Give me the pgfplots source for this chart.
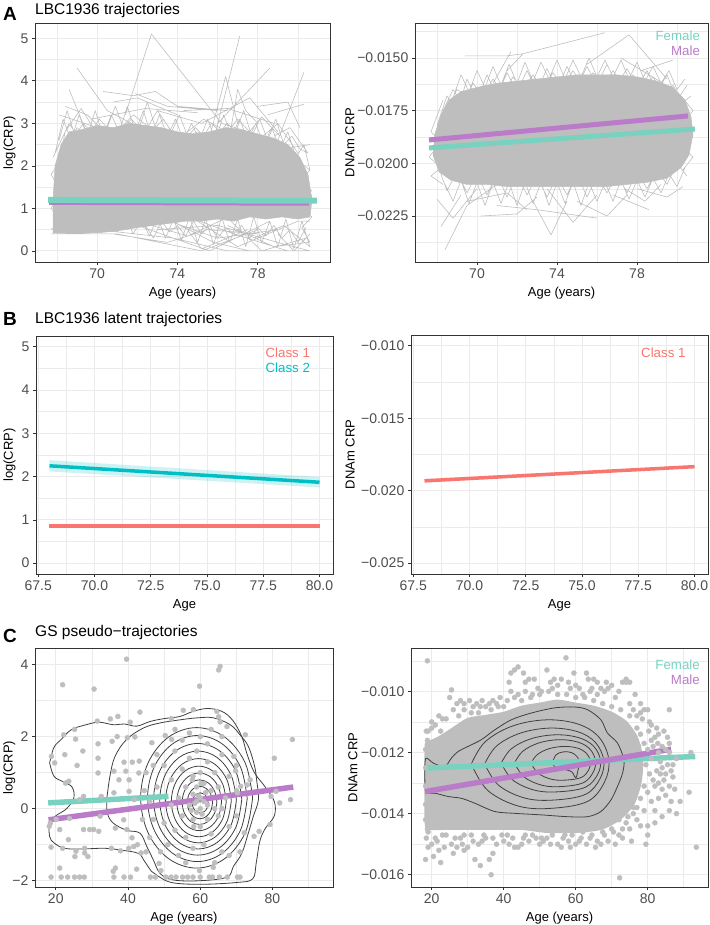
\documentclass[border=0pt]{standalone}
\usepackage{fontspec}
\setmainfont{Liberation Sans}
\usepackage{pgfplots}
\pgfplotsset{compat=1.18}
\definecolor{linegray}{HTML}{BEBEBE}
\definecolor{gridgray}{HTML}{EBEBEB}
\definecolor{framegray}{HTML}{333333}
\definecolor{ticklab}{HTML}{4D4D4D}
\definecolor{female}{HTML}{79D2C0}
\definecolor{male}{HTML}{BA7BC9}
\definecolor{classone}{HTML}{F8766D}
\definecolor{classtwo}{HTML}{00BFC4}
\definecolor{contourc}{HTML}{404040}
\newcommand{\tickfont}{\fontsize{14}{16}\selectfont}
\newcommand{\labfont}{\fontsize{13}{15}\selectfont}
\newcommand{\ttlfont}{\fontsize{15.5}{18}\selectfont}
\newcommand{\letfont}{\fontsize{19}{22}\selectfont\bfseries}
\newcommand{\legfont}{\fontsize{13.3}{15}\selectfont}
\pgfplotsset{
 panel/.style={
  scale only axis,
  scaled x ticks=false, scaled y ticks=false,
  axis line style={framegray, line width=0.75pt},
  grid=both,
  major grid style={gridgray, line width=0.9pt},
  minor grid style={gridgray, line width=0.45pt},
  tick align=outside, tick pos=left,
  major tick length=3pt, minor tick length=0pt,
  tick style={framegray, line width=0.75pt},
  ticklabel style={font=\tickfont, text=ticklab},
  yticklabel style={inner sep=3.5pt},
  label style={font=\labfont, text=black},
  xlabel style={at={(axis description cs:0.5,0)}, anchor=center, yshift=-31pt},
 },
 gline/.style={color=linegray, line width=0.6pt, unbounded coords=jump, line join=round, forget plot},
 gdot/.style={color=linegray, only marks, mark=*, mark size=2.5pt, mark options={draw=linegray, fill=linegray}},
 ctr/.style={color=contourc, line width=0.8pt, smooth, tension=0.6},
}
\begin{document}
\begin{tikzpicture}
\useasboundingbox (0,0) rectangle (709pt,925pt);
% ---------- titles ----------
\node[anchor=base west, font=\letfont, inner sep=0] at (3pt,904.5pt) {A};
\node[anchor=base west, font=\ttlfont, inner sep=0] at (35pt,910pt) {LBC1936 trajectories};
\node[anchor=base west, font=\letfont, inner sep=0] at (3pt,599pt) {B};
\node[anchor=base west, font=\ttlfont, inner sep=0] at (35pt,601pt) {LBC1936 latent trajectories};
\node[anchor=base west, font=\letfont, inner sep=0] at (3pt,282pt) {C};
\node[anchor=base west, font=\ttlfont, inner sep=0] at (35pt,288pt) {GS pseudo−trajectories};

% ================= A left =================
\begin{axis}[panel, at={(35pt,663pt)}, anchor=south west, width=295pt, height=239pt,
 xmin=66.9, xmax=81.6, ymin=-0.26, ymax=5.36,
 xtick={70,74,78}, xticklabels={70,74,78}, minor xtick={68,72,76,80},
 ytick={0,1,2,3,4,5}, yticklabels={0,1,2,3,4,5}, minor ytick={0.5,1.5,2.5,3.5,4.5},
 xlabel={Age (years)}, ylabel={log(CRP)},
 ylabel style={at={(axis description cs:-0.086,0.5)}, anchor=center}]
\addplot[fill=linegray, draw=linegray, line width=0.5pt, forget plot] coordinates {
(67.8,1.2) (67.9,2.0) (68.2,2.5) (68.6,2.8) (69.2,2.85) (70,2.95) (70.8,2.9) (71.6,3.0) (72.4,2.95) (73.2,2.9) (74,2.8) (74.8,2.75) (75.6,2.8) (76.4,2.9) (77.2,2.85) (78,2.75) (78.8,2.65) (79.5,2.5) (80.1,2.2) (80.5,1.8) (80.7,1.2)
(80.6,0.8) (80,0.75) (79.2,0.8) (78.4,0.75) (77.6,0.8) (76.8,0.7) (76,0.75) (75.2,0.7) (74.4,0.7) (73.6,0.65) (72.8,0.6) (72,0.55) (71,0.47) (70,0.43) (69,0.42) (67.8,0.42) (67.8,1.2)};
\addplot[gline] coordinates {
(67.9,2.3) (68.3,3.1) (68.7,2.6) (69.1,3.2) (69.5,2.7) (69.9,3.3) (70.3,2.7) (70.7,3.2) (71.1,2.8) (71.5,3.4) (71.9,2.8) (72.3,3.3) (72.7,2.7) (73.1,3.2) (73.5,2.7) (73.9,3.1) (74.3,2.6) (74.7,3.0) (75.1,2.6) (75.5,3.1) (75.9,2.6) (76.3,3.2) (76.7,2.7) (77.1,3.1) (77.5,2.6) (77.9,3.0) (78.3,2.5) (78.7,2.9) (79.1,2.4) (79.5,2.8) (79.9,2.2) (80.3,2.5) (80.6,1.9) (70,nan)
(68.1,2.6) (68.5,3.3) (68.9,2.7) (69.3,3.0) (69.7,2.8) (70.1,3.1) (70.5,2.9) (70.9,3.4) (71.3,2.9) (71.7,3.1) (72.1,2.9) (72.5,3.5) (72.9,2.9) (73.3,3.1) (73.7,2.8) (74.1,3.2) (74.5,2.7) (74.9,2.9) (75.3,2.7) (75.7,3.0) (76.1,2.8) (76.5,3.0) (76.9,2.8) (77.3,3.3) (77.7,2.7) (78.1,3.1) (78.5,2.6) (78.9,3.1) (79.3,2.5) (79.7,2.7) (80.1,2.4) (80.5,2.3) (70,nan)
(68.0,2.0) (69.0,2.9) (70.0,2.4) (71.0,2.9) (72.0,2.5) (73.0,3.3) (74.0,2.6) (75.0,2.8) (76.0,2.5) (77.0,3.1) (78.0,2.6) (79.0,3.0) (80.0,2.3) (70,nan)
(67.8,0.42) (68.2,0.7) (68.6,0.42) (69.0,0.65) (69.4,0.42) (69.8,0.7) (70.2,0.43) (70.6,0.75) (71.0,0.45) (71.4,0.8) (71.8,0.4) (72.2,0.75) (72.6,0.35) (73.0,0.8) (73.4,0.3) (73.8,0.75) (74.2,0.25) (74.6,0.8) (75.0,0.2) (75.4,0.75) (75.8,0.15) (76.2,0.8) (76.6,0.2) (77.0,0.75) (77.4,0.1) (77.8,0.8) (78.2,0.2) (78.6,0.7) (79.0,0.1) (79.4,0.75) (79.8,0.05) (80.2,0.7) (80.6,0.1) (70,nan)
(72.4,0.6) (72.8,0.3) (73.2,0.7) (73.6,0.45) (74.0,0.6) (74.4,0.35) (74.8,0.7) (75.2,0.4) (75.6,0.6) (76.0,0.3) (76.4,0.55) (76.8,0.4) (77.2,0.6) (77.6,0.3) (78.0,0.55) (78.4,0.35) (78.8,0.6) (79.2,0.3) (79.6,0.5) (80.0,0.2) (80.4,0.55) (70,nan)
(79.8,2.2) (80.6,1.9) (80.0,1.6) (80.7,1.3) (80.1,1.0) (80.7,0.8) (80.2,0.55) (80.6,0.2) (70,nan)
(68.3,2.2) (67.7,1.8) (68.2,1.4) (67.7,1.0) (68.2,0.7) (67.7,0.5) (70,nan)
(68.6,3.8) (69.8,2.4) (70,nan)
(68.4,3.4) (69.5,3.2) (71.0,2.5) (70,nan)
(69.0,4.3) (70.5,3.3) (72.5,2.8) (70,nan)
(70.3,3.75) (71.8,3.65) (72.9,3.75) (74.0,3.4) (76.5,3.3) (70,nan)
(71.4,3.2) (72.7,5.1) (76.2,3.0) (79.5,2.5) (70,nan)
(71.9,3.7) (73.5,3.4) (76.0,3.3) (70,nan)
(75.5,2.5) (76.4,4.1) (77.0,3.0) (70,nan)
(75.8,2.6) (77.1,5.05) (70,nan)
(76.0,3.0) (78.6,4.3) (70,nan)
(76.6,2.7) (77.0,3.8) (77.4,3.3) (78.0,3.0) (70,nan)
(79.0,2.6) (80.3,4.2) (70,nan)
(78.5,3.2) (80.3,3.45) (70,nan)
(69.7,3.1) (72.4,3.35) (75.0,3.25) (70,nan)
(70.8,3.5) (72.0,3.6) (74.0,3.2) (70,nan)
(68.1,3.2) (70.0,2.9) (70,nan)
(67.8,2.2) (68.6,3.0) (69.7,2.2) (70,nan)
(74.3,3.3) (76.5,3.35) (78.8,3.0) (70,nan)
(78.0,3.4) (79.5,3.5) (80.1,2.9) (70,nan)
(73.0,3.3) (75.2,3.0) (77.6,3.6) (79.0,2.8) (70,nan)
(79.2,2.4) (80.6,2.5) (70,nan)
(79.6,2.0) (80.7,1.4) (70,nan)
(78.8,2.7) (79.6,2.9) (80.5,2.3) (70,nan)
(68.0,1.8) (68.4,2.8) (69.2,3.35) (70.2,2.6) (70,nan)
(71.0,2.8) (71.8,3.2) (72.6,2.9) (70,nan)
(74.5,2.8) (75.3,3.1) (76.1,2.9) (70,nan)
(77.4,2.7) (78.2,3.15) (79.1,2.7) (70,nan)
(67.7,0.4) (71.0,0.4) (75.2,0.0) (78.0,0.5) (70,nan)
(67.7,0.4) (69.5,0.4) (72.0,1.5) (70,nan)
(68.0,0.4) (70.5,0.45) (73.0,0.8) (76.0,0.3) (79.0,0.5) (70,nan)
(69.0,0.4) (72.0,0.6) (75.6,0.0) (78.6,0.7) (70,nan)
(70.0,0.5) (73.8,0.3) (76.5,0.0) (80.0,0.0) (70,nan)
(72.5,1.0) (75.8,0.2) (77.6,0.0) (80.6,0.0) (70,nan)
(74.0,0.9) (76.8,0.4) (79.5,0.0) (70,nan)
(75.0,0.7) (77.0,0.1) (80.0,0.7) (80.6,0.7) (70,nan)
(76.0,1.0) (78.2,0.0) (80.4,0.3) (70,nan)
(73.0,0.5) (76.0,0.6) (79.0,0.2) (80.6,0.0) (70,nan)
(70.8,0.4) (73.5,0.2) (75.5,0.5) (78.0,0.4) (70,nan)
(74.5,0.5) (75.2,0.05) (77.5,0.5) (70,nan)
(76.5,0.6) (78.8,0.1) (80.5,0.2) (70,nan)
(79.0,0.4) (79.8,0.0) (80.6,0.4) (70,nan)
(72.0,0.7) (74.5,0.35) (77.0,0.9) (70,nan)
(77.8,0.3) (79.3,0.6) (80.6,0.1)};
\addplot[male, line width=4pt] coordinates {(67.6,1.13) (80.55,1.11)};
\addplot[female, line width=6pt] coordinates {(67.55,1.2) (80.95,1.18)};
\end{axis}

% ================= A right =================
\begin{axis}[panel, at={(415pt,663pt)}, anchor=south west, width=293pt, height=239pt,
 xmin=66.9, xmax=81.55, ymin=-0.02468, ymax=-0.01334,
 xtick={70,74,78}, xticklabels={70,74,78}, minor xtick={68,72,76,80},
 ytick={-0.0225,-0.02,-0.0175,-0.015}, yticklabels={−0.0225,−0.0200,−0.0175,−0.0150},
 minor ytick={-0.02375,-0.02125,-0.01875,-0.01625,-0.01375},
 xlabel={Age (years)}, ylabel={DNAm CRP},
 ylabel style={at={(axis description cs:-0.222,0.5)}, anchor=center}]
\addplot[fill=linegray, draw=linegray, line width=0.5pt, forget plot] coordinates {
(67.8,-0.0196) (67.9,-0.0186) (68.2,-0.0177) (68.6,-0.0170) (69.2,-0.0166) (70,-0.0164) (71,-0.0162) (72,-0.0161) (73,-0.0160) (74,-0.0159) (75,-0.0158) (76,-0.0158) (77,-0.0158) (78,-0.0159) (79,-0.0161) (79.8,-0.0164) (80.4,-0.0170) (80.7,-0.0178) (80.8,-0.0186)
(80.6,-0.0196) (80.2,-0.0202) (79.5,-0.0207) (78.5,-0.0209) (77.5,-0.0210) (76.5,-0.0211) (75.5,-0.0211) (74.5,-0.0211) (73.5,-0.0211) (72.5,-0.0211) (71.5,-0.0211) (70.5,-0.0210) (69.5,-0.0210) (68.7,-0.0208) (68.1,-0.0204) (67.8,-0.0196)};
\addplot[gline] coordinates {
(68.0,-0.0182) (68.5,-0.0168) (69.0,-0.0176) (69.5,-0.0160) (70.0,-0.0170) (70.5,-0.0158) (71.0,-0.0168) (71.5,-0.0157) (72.0,-0.0166) (72.5,-0.0156) (73.0,-0.0166) (73.5,-0.0155) (74.0,-0.0165) (74.5,-0.0154) (75.0,-0.0164) (75.5,-0.0154) (76.0,-0.0163) (76.5,-0.0153) (77.0,-0.0163) (77.5,-0.0155) (78.0,-0.0164) (78.5,-0.0156) (79.0,-0.0166) (79.5,-0.0158) (80.0,-0.0170) (80.5,-0.0163) (70,nan)
(68.3,-0.0175) (68.8,-0.0165) (69.3,-0.0172) (69.8,-0.0162) (70.3,-0.0168) (70.8,-0.0160) (71.3,-0.0167) (71.8,-0.0159) (72.3,-0.0165) (72.8,-0.0158) (73.3,-0.0165) (73.8,-0.0157) (74.3,-0.0164) (74.8,-0.0156) (75.3,-0.0164) (75.8,-0.0157) (76.3,-0.0163) (76.8,-0.0156) (77.3,-0.0164) (77.8,-0.0158) (78.3,-0.0165) (78.8,-0.0159) (79.3,-0.0167) (79.8,-0.0163) (80.3,-0.0171) (80.7,-0.0168) (70,nan)
(68.8,-0.0169) (69.2,-0.0158) (69.6,-0.0166) (70.0,-0.0156) (70.4,-0.0164) (70.8,-0.0154) (71.2,-0.0163) (71.6,-0.0153) (72.0,-0.0162) (72.4,-0.0152) (72.8,-0.0161) (73.2,-0.0152) (73.6,-0.0160) (74.0,-0.0151) (74.4,-0.0160) (74.8,-0.0151) (75.2,-0.0159) (75.6,-0.0150) (76.0,-0.0159) (76.4,-0.0151) (76.8,-0.0159) (77.2,-0.0151) (77.6,-0.0160) (78.0,-0.0152) (78.4,-0.0161) (78.8,-0.0154) (79.2,-0.0162) (79.6,-0.0156) (80.0,-0.0165) (80.4,-0.0160) (70,nan)
(68.0,-0.0200) (68.5,-0.0213) (69.0,-0.0204) (69.5,-0.0214) (70.0,-0.0205) (70.5,-0.0215) (71.0,-0.0205) (71.5,-0.0216) (72.0,-0.0205) (72.5,-0.0215) (73.0,-0.0206) (73.5,-0.0216) (74.0,-0.0206) (74.5,-0.0215) (75.0,-0.0205) (75.5,-0.0216) (76.0,-0.0206) (76.5,-0.0214) (77.0,-0.0205) (77.5,-0.0214) (78.0,-0.0204) (78.5,-0.0212) (79.0,-0.0203) (79.5,-0.0210) (80.0,-0.0200) (80.5,-0.0206) (70,nan)
(68.4,-0.0210) (68.8,-0.0218) (69.2,-0.0208) (69.6,-0.0219) (70.0,-0.0209) (70.4,-0.0220) (70.8,-0.0209) (71.2,-0.0219) (71.6,-0.0209) (72.0,-0.0220) (72.4,-0.0209) (72.8,-0.0219) (73.2,-0.0209) (73.6,-0.0220) (74.0,-0.0209) (74.4,-0.0219) (74.8,-0.0209) (75.2,-0.0220) (75.6,-0.0209) (76.0,-0.0218) (76.4,-0.0209) (76.8,-0.0218) (77.2,-0.0208) (77.6,-0.0217) (78.0,-0.0208) (78.4,-0.0216) (78.8,-0.0207) (79.2,-0.0214) (79.6,-0.0205) (80.0,-0.0211) (80.4,-0.0202) (70,nan)
(80.2,-0.0168) (80.8,-0.0175) (80.3,-0.0181) (80.8,-0.0187) (80.2,-0.0192) (80.8,-0.0197) (80.3,-0.0203) (70,nan)
(68.3,-0.0170) (67.7,-0.0185) (68.2,-0.0190) (67.6,-0.0197) (68.2,-0.0202) (67.7,-0.0206) (68.3,-0.0210) (70,nan)
(69.4,-0.0149) (71.5,-0.0149) (72.3,-0.0148) (70,nan)
(70.8,-0.0162) (71.7,-0.0147) (70,nan)
(71.5,-0.0156) (72.3,-0.0148) (76.4,-0.0138) (70,nan)
(75.5,-0.0153) (77.6,-0.0139) (79.5,-0.0160) (70,nan)
(78.2,-0.0156) (79.8,-0.0151) (70,nan)
(77.2,-0.0150) (79.3,-0.0162) (70,nan)
(68.3,-0.0178) (69.0,-0.0165) (70.0,-0.0170) (70,nan)
(68.4,-0.0241) (69.5,-0.0220) (71.0,-0.0210) (70,nan)
(68.2,-0.0230) (69.2,-0.0215) (70,nan)
(68.0,-0.0217) (68.8,-0.0226) (70.0,-0.0212) (70,nan)
(70.2,-0.0225) (72.0,-0.0224) (73.0,-0.0216) (70,nan)
(72.8,-0.0218) (73.7,-0.0234) (74.5,-0.0218) (70,nan)
(73.5,-0.0212) (74.8,-0.0228) (76.0,-0.0215) (70,nan)
(75.0,-0.0218) (76.5,-0.0225) (77.5,-0.0215) (70,nan)
(76.8,-0.0215) (78.6,-0.0222) (70,nan)
(78.0,-0.0212) (79.5,-0.0216) (80.3,-0.0211) (70,nan)
(71.0,-0.0220) (73.0,-0.0222) (76.0,-0.0226) (70,nan)
(69.5,-0.0218) (71.5,-0.0214) (72.5,-0.0222) (70,nan)
(77.4,-0.0212) (78.4,-0.0218) (79.2,-0.0210)};
\addplot[male, line width=5pt] coordinates {(67.6,-0.01889) (80.55,-0.01775)};
\addplot[female, line width=5pt] coordinates {(67.6,-0.01927) (80.9,-0.01837)};
\node[anchor=base east, font=\legfont, text=female, inner sep=0] at (rel axis cs:0.973,0.926) {Female};
\node[anchor=base east, font=\legfont, text=male, inner sep=0] at (rel axis cs:0.973,0.863) {Male};
\end{axis}

% ================= B left =================
\begin{axis}[panel, at={(36pt,351pt)}, anchor=south west, width=297pt, height=238pt,
 xmin=67.4, xmax=80.6, ymin=-0.25, ymax=5.25,
 xtick={67.5,70,72.5,75,77.5,80}, xticklabels={67.5,70.0,72.5,75.0,77.5,80.0},
 minor xtick={68.75,71.25,73.75,76.25,78.75},
 ytick={0,1,2,3,4,5}, yticklabels={0,1,2,3,4,5}, minor ytick={0.5,1.5,2.5,3.5,4.5},
 xlabel={Age}, ylabel={log(CRP)},
 ylabel style={at={(axis description cs:-0.089,0.5)}, anchor=center}]
\addplot[fill=classtwo, fill opacity=0.2, draw=none] coordinates {(68,2.38) (80,1.99) (80,1.75) (68,2.12)};
\addplot[fill=classone, fill opacity=0.2, draw=none] coordinates {(68,0.91) (80,0.91) (80,0.81) (68,0.81)};
\addplot[classtwo, line width=3.5pt] coordinates {(68,2.25) (80,1.87)};
\addplot[classone, line width=3.5pt] coordinates {(68,0.86) (80,0.86)};
\node[anchor=base east, font=\legfont, text=classone, inner sep=0] at (rel axis cs:0.923,0.910) {Class 1};
\node[anchor=base east, font=\legfont, text=classtwo, inner sep=0] at (rel axis cs:0.923,0.847) {Class 2};
\end{axis}

% ================= B right =================
\begin{axis}[panel, at={(411pt,351pt)}, anchor=south west, width=297pt, height=239pt,
 xmin=67.4, xmax=80.6, ymin=-0.02575, ymax=-0.00925,
 xtick={67.5,70,72.5,75,77.5,80}, xticklabels={67.5,70.0,72.5,75.0,77.5,80.0},
 minor xtick={68.75,71.25,73.75,76.25,78.75},
 ytick={-0.025,-0.02,-0.015,-0.01}, yticklabels={−0.025,−0.020,−0.015,−0.010},
 minor ytick={-0.0225,-0.0175,-0.0125},
 xlabel={Age}, ylabel={DNAm CRP},
 ylabel style={at={(axis description cs:-0.205,0.5)}, anchor=center}]
\addplot[fill=classone, fill opacity=0.2, draw=none] coordinates {(68,-0.01918) (80,-0.01826) (80,-0.01840) (68,-0.01944)};
\addplot[classone, line width=3.5pt] coordinates {(68,-0.01932) (80,-0.01834)};
\node[anchor=base east, font=\legfont, text=classone, inner sep=0] at (rel axis cs:0.925,0.907) {Class 1};
\end{axis}

% ================= C left =================
\begin{axis}[panel, at={(35pt,38pt)}, anchor=south west, width=298pt, height=239pt,
 xmin=14.25, xmax=96.75, ymin=-2.175, ymax=4.46,
 xtick={20,40,60,80}, xticklabels={20,40,60,80}, minor xtick={30,50,70,90},
 ytick={-2,0,2,4}, yticklabels={−2,0,2,4}, minor ytick={-1,1,3},
 xlabel={Age (years)}, ylabel={log(CRP)},
 ylabel style={at={(axis description cs:-0.086,0.5)}, anchor=center}]
\addplot[gdot] coordinates {
(39.6,4.15) (21.9,3.44) (30.6,3.32) (65.1,3.85) (65.5,3.95) (59.8,3.40) (43.3,2.68) (55.3,2.73) (58.1,2.75) (52.0,2.50) (64.6,2.70) (65.1,2.55) (37.2,2.56) (35.1,2.49) (40.6,2.40) (31.5,2.43) (65.5,2.41) (67.4,2.28) (85.5,1.92) (72.5,2.05) (22.2,2.05) (25.2,2.20) (25.5,1.93) (27.5,1.60) (31.7,1.80) (31.7,1.40) (18.8,1.45) (19.7,1.27) (22.5,1.50) (37.0,2.00) (39.8,1.97) (41.9,1.99) (46.6,1.83) (50.3,2.03) (52.1,1.92) (35.6,1.87) (38.9,1.29) (39.4,1.04) (41.2,1.29) (43.1,1.32) (36.1,1.04) (37.5,0.80) (40.3,0.80) (43.0,0.99) (31.7,0.99) (25.9,1.20) (22.7,0.71) (23.6,0.76) (26.6,0.25) (27.7,0.34) (32.6,0.34) (36.1,0.44) (40.3,0.48) (41.7,0.25)
(18.2,-0.49) (18.5,-0.40) (20.1,-0.30) (21.1,-0.58) (23.8,-0.27) (27.7,-0.58) (29.4,-0.58) (30.5,-0.58) (31.9,-0.63) (32.3,-0.21) (36.5,-0.54) (38.8,-0.31) (39.7,-0.58) (41.1,-0.81) (18.7,-1.07) (21.9,-1.10) (23.5,-0.86) (25.6,-1.18) (28.0,-1.10) (28.9,-1.33) (28.0,-1.23) (25.3,-1.33) (35.4,-1.10) (37.9,-1.17) (40.2,-1.10) (41.6,-1.05) (42.6,-1.00) (43.6,-1.23) (21.1,-1.65) (35.9,-1.74) (36.5,-1.65) (42.4,-1.68)
(18.7,-1.9) (21.5,-1.9) (23.3,-1.9) (25.2,-1.9) (26.6,-1.9) (27.9,-1.9) (36.1,-1.9) (38.9,-1.9) (40.7,-1.9) (46.2,-1.9) (47.6,-1.9) (50.5,-1.9) (51.9,-1.9) (53.3,-1.9) (55.1,-1.9) (56.5,-1.9) (62.5,-1.9) (63.4,-1.9) (65.3,-1.9) (70.3,-1.9) (71.0,-1.9) (58,-1.9) (60,-1.9) (67.5,-1.9)
(49.1,-1.72) (48.6,-1.52) (59.8,-1.72) (63.6,-1.63) (79.3,-0.44) (72.2,-0.67) (74.9,-0.77) (76.3,-0.63) (79.6,0.34) (81.0,0.48) (85.0,0.25) (82.0,0.16) (80.5,1.40) (70.3,0.44) (71.2,0.62) (73.0,0.66) (73.8,0.80) (69.3,1.45) (69.8,1.05) (70.0,1.20)
(48,1.5) (50,1.2) (52,0.8) (53,1.6) (54,0.3) (55,-0.2) (55,1.1) (56,0.6) (56,-0.8) (57,0.1) (57,1.4) (58,0.4) (58,-0.3) (58,0.9) (59,0.2) (59,-0.1) (59,0.6) (60,0.0) (60,0.3) (60,-0.5) (60,1.0) (61,0.2) (61,-1.0) (61,0.7) (62,0.1) (62,-0.3) (62,1.3) (63,0.5) (63,-0.7) (64,0.0) (64,1.0) (65,-0.2) (65,0.6) (66,1.5) (66,-1.2) (67,0.3) (68,-0.5) (68,0.9) (50,-0.4) (51,-1.0) (52,0.1) (53,-0.6) (54,-1.3) (56,-1.5) (58,-1.1) (59,1.6) (60,2.0) (57,2.1) (62,1.8) (64,-1.5) (66,0.0) (46,0.2) (47,-0.3) (48,0.6) (49,-1.2) (70,-0.2) (70,0.5) (45,1.0) (63,2.2) (55,1.9) (58.5,0.15) (59.5,0.35) (60.5,-0.15) (57.5,-0.05) (61.5,0.45) (58.2,-0.5) (60.2,0.7) (57.8,0.8) (44,-0.3) (45,-1.2) (47,1.2) (53,2.2) (66,2.0) (68,-1.3) (71,-1.2) (44.5,0.5) (46,-0.8)};
% contours
\addplot[ctr] coordinates {(18.3,1.27) (19.5,1.7) (21.5,1.92) (24.3,2.19) (28.4,2.33) (32,2.4) (35.9,2.33) (39,2.35) (42.4,2.29) (46.1,2.42) (50,2.5) (54.4,2.56) (58,2.7) (62,2.78) (66,2.7) (69,2.45) (71.5,2.0) (73,1.5) (75,1.0) (78,0.6) (80.5,0.2) (80.5,-0.2) (78,-0.55) (76.5,-0.9) (75.5,-1.5) (74.5,-1.95) (70,-2.05) (60,-2.1) (52,-2.05) (48,-1.85) (46.5,-1.74) (44.5,-1.45) (42.8,-1.24) (38,-1.15) (33.5,-1.1) (27,-1.12) (22.4,-1.1) (19.5,-0.95) (18.3,-0.77) (18.3,-0.4) (20,-0.2) (23,0.0) (25,0.3) (24.5,0.6) (22,0.75) (19.5,0.9) (18.3,1.27)};
\addplot[ctr] coordinates {(34.1,0.25) (35,0.9) (36.4,1.45) (39.6,1.92) (44.3,2.24) (48.9,2.38) (54,2.46) (59.1,2.52) (63.7,2.52) (68.3,2.33) (71,2.05) (73.3,1.73) (75,1.2) (75.6,0.8) (76.1,0.25) (74.7,-0.21) (73.3,-0.68) (71.5,-1.24) (69.2,-1.6) (67.4,-1.9) (60,-2.0) (52.6,-1.98) (48.9,-1.8) (47,-1.42) (45.2,-1.05) (43.3,-0.68) (39.6,-0.6) (35.9,-0.4) (34.3,-0.13) (34.1,0.25)};
\addplot[ctr] coordinates {(74.5,0.3) (72.42,1.275) (66.75,1.989) (59,2.25) (51.25,1.989) (45.58,1.275) (43.5,0.3) (45.58,-0.675) (51.25,-1.389) (59,-1.65) (66.75,-1.389) (72.42,-0.675) (74.5,0.3)};
\addplot[ctr] coordinates {(73.0,0.28) (71.15,1.155) (66.1,1.796) (59.2,2.03) (52.3,1.796) (47.25,1.155) (45.4,0.28) (47.25,-0.595) (52.3,-1.236) (59.2,-1.47) (66.1,-1.236) (71.15,-0.595) (73.0,0.28)};
\addplot[ctr] coordinates {(71.5,0.26) (69.87,1.035) (65.4,1.602) (59.3,1.81) (53.2,1.602) (48.73,1.035) (47.1,0.26) (48.73,-0.515) (53.2,-1.082) (59.3,-1.29) (65.4,-1.082) (69.87,-0.515) (71.5,0.26)};
\addplot[ctr] coordinates {(70.0,0.24) (68.58,0.92) (64.7,1.418) (59.4,1.6) (54.1,1.418) (50.22,0.92) (48.8,0.24) (50.22,-0.44) (54.1,-0.938) (59.4,-1.12) (64.7,-0.938) (68.58,-0.44) (70.0,0.24)};
\addplot[ctr] coordinates {(68.6,0.22) (67.38,0.805) (64.05,1.233) (59.5,1.39) (54.95,1.233) (51.62,0.805) (50.4,0.22) (51.62,-0.365) (54.95,-0.793) (59.5,-0.95) (64.05,-0.793) (67.38,-0.365) (68.6,0.22)};
\addplot[ctr] coordinates {(67.2,0.2) (66.18,0.69) (63.4,1.049) (59.6,1.18) (55.8,1.049) (53.02,0.69) (52.0,0.2) (53.02,-0.29) (55.8,-0.649) (59.6,-0.78) (63.4,-0.649) (66.18,-0.29) (67.2,0.2)};
\addplot[ctr] coordinates {(65.9,0.19) (65.07,0.59) (62.8,0.883) (59.7,0.99) (56.6,0.883) (54.33,0.59) (53.5,0.19) (54.33,-0.21) (56.6,-0.503) (59.7,-0.61) (62.8,-0.503) (65.07,-0.21) (65.9,0.19)};
\addplot[ctr] coordinates {(64.6,0.18) (63.96,0.49) (62.2,0.717) (59.8,0.8) (57.4,0.717) (55.64,0.49) (55.0,0.18) (55.64,-0.13) (57.4,-0.357) (59.8,-0.44) (62.2,-0.357) (63.96,-0.13) (64.6,0.18)};
\addplot[ctr] coordinates {(63.4,0.17) (62.93,0.395) (61.65,0.56) (59.9,0.62) (58.15,0.56) (56.87,0.395) (56.4,0.17) (56.87,-0.055) (58.15,-0.22) (59.9,-0.28) (61.65,-0.22) (62.93,-0.055) (63.4,0.17)};
\addplot[ctr] coordinates {(62.2,0.16) (61.91,0.3) (61.1,0.402) (60,0.44) (58.9,0.402) (58.09,0.3) (57.8,0.16) (58.09,0.02) (58.9,-0.082) (60,-0.12) (61.1,-0.082) (61.91,0.02) (62.2,0.16)};
\addplot[female, line width=5.5pt] coordinates {(17.9,0.16) (51.2,0.34)};
\addplot[male, line width=5.5pt] coordinates {(18.0,-0.31) (85.75,0.60)};
\end{axis}

% ================= C right =================
\begin{axis}[panel, at={(411pt,38pt)}, anchor=south west, width=297pt, height=239pt,
 xmin=14.25, xmax=96.75, ymin=-0.0164, ymax=-0.00858,
 xtick={20,40,60,80}, xticklabels={20,40,60,80}, minor xtick={30,50,70,90},
 ytick={-0.016,-0.014,-0.012,-0.01}, yticklabels={−0.016,−0.014,−0.012,−0.010},
 minor ytick={-0.015,-0.013,-0.011,-0.009},
 xlabel={Age (years)}, ylabel={DNAm CRP},
 ylabel style={at={(axis description cs:-0.196,0.5)}, anchor=center}]
\addplot[fill=linegray, draw=linegray, line width=2pt, smooth, tension=0.4] coordinates {
(18.3,-0.0117) (22,-0.0115) (26,-0.0112) (30,-0.0109) (35,-0.0108) (40,-0.0107) (45,-0.0105) (50,-0.0104) (55,-0.0103) (60,-0.0104) (65,-0.0105) (70,-0.0107) (74,-0.0110) (77,-0.0115) (78.5,-0.0122) (78,-0.0130) (76,-0.0137) (72,-0.0142) (67,-0.0145) (60,-0.0146) (52,-0.0146) (45,-0.0145) (38,-0.0145) (30,-0.0145) (24,-0.0145) (20,-0.0145) (18.3,-0.0143) (18.3,-0.0117)};
\addplot[gdot] coordinates {
(18.8,-0.0090) (25.5,-0.00995) (28,-0.0103) (29,-0.0104) (30.5,-0.0103) (31.5,-0.0105) (32.5,-0.0104) (33,-0.0107) (35,-0.0105) (36.5,-0.0106) (38,-0.0104) (40,-0.0105) (41.5,-0.0097) (42,-0.0094) (43,-0.0093) (44,-0.0092) (45.5,-0.0094) (46,-0.0097) (47,-0.0096) (48.5,-0.0096) (49.5,-0.0099) (50.5,-0.0100) (52,-0.0093) (53,-0.0097) (54,-0.0096) (55,-0.0098) (56,-0.0096) (57.3,-0.0089) (58,-0.0097) (59.5,-0.0094) (61,-0.0099) (62,-0.0101) (63,-0.0094) (63.5,-0.0096) (64.5,-0.0099) (66,-0.0097) (67,-0.0099) (68,-0.0100) (69,-0.0099) (70,-0.0098) (71,-0.0102) (72,-0.0100) (73,-0.0097) (74,-0.0097) (75,-0.0104) (76,-0.0106) (77,-0.0108) (78,-0.0107) (79,-0.0106) (80,-0.0106) (80.5,-0.0110) (81,-0.0116) (82.5,-0.0112) (83,-0.0114) (84,-0.0118) (85,-0.0119) (86,-0.0120) (87,-0.0124) (84,-0.0125) (85,-0.0127) (86,-0.0131) (87,-0.0128) (84,-0.0132) (85,-0.0134) (86.5,-0.0136) (83,-0.0135) (82,-0.0139) (84,-0.0141) (80,-0.0144) (82,-0.0143) (80,-0.0147) (78,-0.0144) (76,-0.0138) (77,-0.0142) (75,-0.0145) (74,-0.0143) (72,-0.0142) (72,-0.0147) (71,-0.0150) (69,-0.0149) (68,-0.0147) (66,-0.0149) (64,-0.0148) (63,-0.0150) (61,-0.0149) (60,-0.0150) (58,-0.0149) (56,-0.0151) (55,-0.0150) (53,-0.0150) (51,-0.0149) (49,-0.0148) (47,-0.0149) (44,-0.0151) (43,-0.0151) (40,-0.0149) (38,-0.0150) (37,-0.0153) (36,-0.0155) (33,-0.0150) (32,-0.0155) (30,-0.0151) (29,-0.0152) (27,-0.0151) (25.5,-0.0150) (23.5,-0.0151) (22,-0.0152) (20,-0.0150) (19,-0.0151) (18.3,-0.0155) (72.2,-0.0161) (79.5,-0.0150) (75.5,-0.0149) (93.5,-0.0151) (91.5,-0.0133) (92,-0.0120) (88,-0.0122) (89,-0.0136) (88,-0.0140) (86,-0.0139) (83.5,-0.0127) (84.5,-0.0113) (85.5,-0.0115) (86,-0.0106) (74,-0.0096) (75,-0.0097) (68.5,-0.0097) (65,-0.0096) (60,-0.0098) (25,-0.0102) (22,-0.0108) (20,-0.0112) (19,-0.0113) (21,-0.0111) (23,-0.0109) (26,-0.0106) (27,-0.0104) (34,-0.0103) (37,-0.0103) (39,-0.0102) (42,-0.0100) (44,-0.0101) (46,-0.0100) (48,-0.0101) (66,-0.0101) (76.5,-0.0101) (78,-0.0104) (81,-0.0111) (82,-0.0115) (83,-0.0120) (70,-0.0145) (62,-0.0146) (57,-0.0147) (52,-0.0148) (46,-0.0147) (41,-0.0147) (35,-0.0148) (31,-0.0147) (28,-0.0148) (24,-0.0147) (21,-0.0148) (18.5,-0.0148) (18.5,-0.0113) (34,-0.0149) (45,-0.0150) (67,-0.0150) (73,-0.0148)
(77,-0.0112) (78,-0.0114) (79,-0.0117) (80,-0.0119) (81,-0.0122) (79.5,-0.0124) (80.5,-0.0127) (81.5,-0.0129) (79,-0.0131) (80,-0.0133) (78,-0.0135) (77,-0.0138) (79,-0.0139) (81,-0.0136) (82,-0.0131) (82.5,-0.0126) (83.5,-0.0123) (81.5,-0.0118) (78.5,-0.0109) (76,-0.0140) (74.5,-0.0141) (82.8,-0.0117) (84.5,-0.0129) (85.5,-0.0124) (86,-0.0117) (87.5,-0.0132) (86.5,-0.0126) (80.3,-0.0113) (83,-0.0130) (77.5,-0.0118)
(20,-0.0110) (22.5,-0.0113) (24,-0.0109) (27.5,-0.0108) (29,-0.0106) (31,-0.0107) (33.5,-0.0105) (36,-0.0104) (38.5,-0.0105) (41,-0.0103) (43,-0.0102) (45,-0.0103) (47.5,-0.0102) (50,-0.0101) (52.5,-0.0100) (55,-0.0101) (57.5,-0.0101) (60,-0.0102) (62.5,-0.0102) (65,-0.0103) (67.5,-0.0104) (70,-0.0105) (72.5,-0.0106) (75,-0.0108) (53.5,-0.0099) (58.5,-0.0099) (64,-0.0100)
(19,-0.0146) (21.5,-0.0149) (23,-0.0147) (26.5,-0.0148) (29,-0.0147) (31.5,-0.0149) (34.5,-0.0147) (37,-0.0148) (39.5,-0.0147) (42.5,-0.0148) (45.5,-0.0148) (48,-0.0147) (50.5,-0.0148) (53.5,-0.0147) (56.5,-0.0148) (59,-0.0147) (61.5,-0.0148) (64.5,-0.0147) (67.5,-0.0146) (70.5,-0.0146) (73,-0.0145) (50,-0.0150) (58.5,-0.0151) (65.5,-0.0151) (41.5,-0.0150) (26,-0.0153) (20.5,-0.0154) (22.5,-0.0156) (33.5,-0.0157) (36.5,-0.0160) (28.5,-0.0150)
(18.3,-0.0119) (18.3,-0.0125) (18.3,-0.0131) (18.3,-0.0137) (18.3,-0.0142) (18.8,-0.0116) (18.8,-0.0145)};
% contours
\addplot[ctr, tension=0.5] coordinates {(18.1,-0.0129) (18.3,-0.0122) (20.5,-0.01235) (23.6,-0.01246) (25.5,-0.01218) (27.3,-0.01197) (30.1,-0.01180) (33.8,-0.01158) (37.5,-0.01126) (42.1,-0.01093) (47.6,-0.01071) (54.1,-0.01054) (59.6,-0.01051) (63.3,-0.01060) (67.0,-0.01093) (68.8,-0.01136) (71.6,-0.01169) (73.4,-0.01224) (73.0,-0.01268) (71.6,-0.01311) (69.8,-0.01355) (67.0,-0.01393) (63.3,-0.01410) (57.8,-0.01410) (50.4,-0.01404) (43.0,-0.01399) (37.5,-0.01393) (32.0,-0.01366) (28.3,-0.01350) (24.6,-0.01344) (20.9,-0.01333) (18.5,-0.01330) (18.1,-0.0129)};
\addplot[ctr] coordinates {(31,-0.012375) (34.82,-0.011653) (42.46,-0.011132) (52.01,-0.01093) (60.8,-0.011075) (66.53,-0.011508) (69.2,-0.012231) (68.05,-0.012953) (63.47,-0.013589) (53.92,-0.01382) (44.37,-0.013762) (35.58,-0.013242) (31,-0.012375)};
\addplot[ctr] coordinates {(34.7,-0.012375) (38.01,-0.011788) (44.63,-0.011365) (52.91,-0.0112) (60.52,-0.011318) (65.48,-0.01167) (67.8,-0.012258) (66.81,-0.012845) (62.84,-0.013362) (54.56,-0.01355) (46.29,-0.013503) (38.67,-0.01308) (34.7,-0.012375)};
\addplot[ctr] coordinates {(39.3,-0.01235) (42.06,-0.011885) (47.58,-0.01155) (54.48,-0.01142) (60.83,-0.011513) (64.97,-0.011792) (66.9,-0.012257) (66.07,-0.012722) (62.76,-0.013131) (55.86,-0.01328) (48.96,-0.013243) (42.61,-0.012908) (39.3,-0.01235)};
\addplot[ctr] coordinates {(43,-0.012345) (45.25,-0.011963) (49.75,-0.011687) (55.38,-0.01158) (60.55,-0.011657) (63.93,-0.011886) (65.5,-0.012269) (64.83,-0.012651) (62.13,-0.012988) (56.5,-0.01311) (50.88,-0.013079) (45.7,-0.012804) (43,-0.012345)};
\addplot[ctr] coordinates {(47.6,-0.01235) (49.25,-0.012075) (52.55,-0.011877) (56.68,-0.0118) (60.47,-0.011855) (62.95,-0.01202) (64.1,-0.012295) (63.61,-0.01257) (61.63,-0.012812) (57.5,-0.0129) (53.38,-0.012878) (49.58,-0.01268) (47.6,-0.01235)};
\addplot[ctr] coordinates {(53.5,-0.01235) (54.5,-0.01208) (56.5,-0.01198) (58.8,-0.01200) (60.5,-0.01215) (61,-0.01235) (60.6,-0.0126) (60,-0.01282) (58.8,-0.01262) (56.5,-0.01255) (54.5,-0.01250) (53.5,-0.01235)};
\addplot[female, line width=5.5pt] coordinates {(18.1,-0.01251) (93.2,-0.01213)};
\addplot[male, line width=5.5pt] coordinates {(18.1,-0.01328) (86.5,-0.01189)};
\node[anchor=base east, font=\legfont, text=female, inner sep=0] at (rel axis cs:0.973,0.911) {Female};
\node[anchor=base east, font=\legfont, text=male, inner sep=0] at (rel axis cs:0.973,0.849) {Male};
\end{axis}
\end{tikzpicture}
\end{document}
